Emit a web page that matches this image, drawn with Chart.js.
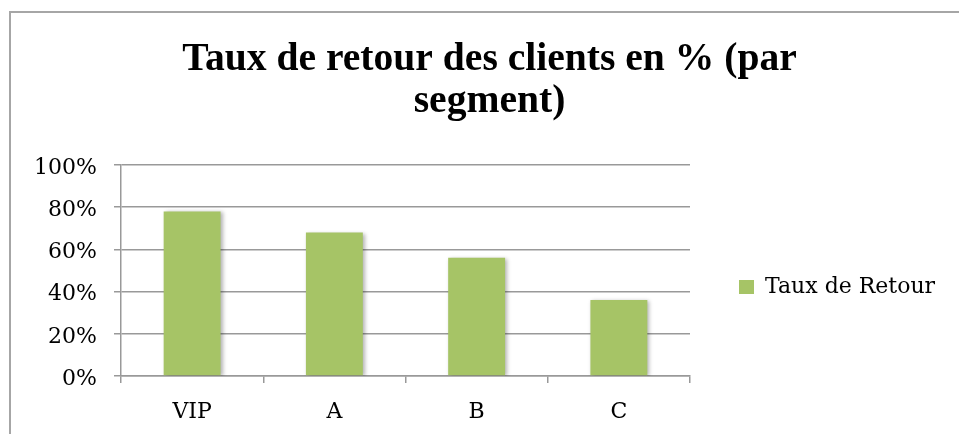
<!DOCTYPE html>
<html>
<head>
<meta charset="utf-8">
<script src="https://cdn.jsdelivr.net/npm/chart.js@4/dist/chart.umd.min.js"></script>
<style>
  html, body { margin: 0; padding: 0; background: #fff; overflow: hidden; }
  canvas { display: block; }
</style>
</head>
<body>
<canvas id="c" width="959" height="434"></canvas>
<script>
const categories = ['VIP', 'A', 'B', 'C'];
const seriesName = 'Taux de Retour';
const seriesValues = [78, 68, 56, 36];
const yTickValues = [0, 20, 40, 60, 80, 100];
const titleLines = ['Taux de retour des clients en % (par', 'segment)'];

const W = 959, H = 434;
const PLOT_LEFT = 121, PLOT_RIGHT = 690, PLOT_TOP = 165, PLOT_BOTTOM = 376;
const LEGEND_X = 739, LEGEND_CENTER_Y = 287;
const regFont = { family: '"DejaVu Serif"', size: 22 };
const gridColor = '#999999';

// layout helpers (measure the legend text so the legend lands where the reference has it)
const mctx = document.createElement('canvas').getContext('2d');
mctx.font = '22px "DejaVu Serif"';
const boxW = 15, boxH = 14;
const itemWidth = boxW + regFont.size / 2 + mctx.measureText(seriesName).width;
const padR = Math.max(0, W - 10 - itemWidth - LEGEND_X);
const padL = padR + 20;

const framePlugin = {
  id: 'frame',
  beforeDraw(chart) {
    const ctx = chart.ctx;
    ctx.save();
    ctx.fillStyle = '#ffffff';
    ctx.fillRect(0, 0, chart.width, chart.height);
    ctx.strokeStyle = '#a6a6a6';
    ctx.lineWidth = 2;
    ctx.strokeRect(10, 12, chart.width + 20, chart.height + 20);
    ctx.restore();
  }
};
const shadowPlugin = {
  id: 'barShadow',
  beforeDatasetsDraw(chart) {
    const ctx = chart.ctx;
    ctx.save();
    ctx.shadowColor = 'rgba(0,0,0,0.3)';
    ctx.shadowBlur = 4;
    ctx.shadowOffsetX = 2;
    ctx.shadowOffsetY = 1;
  },
  afterDatasetsDraw(chart) {
    chart.ctx.restore();
  }
};

new Chart(document.getElementById('c'), {
  type: 'bar',
  data: {
    labels: categories,
    datasets: [{
      label: seriesName,
      data: seriesValues,
      backgroundColor: '#a6c466',
      borderWidth: 0,
      barPercentage: 0.4,
      categoryPercentage: 1.0
    }]
  },
  options: {
    responsive: false,
    animation: false,
    devicePixelRatio: 1,
    layout: { padding: { left: padL, right: padR, top: 0, bottom: 0 } },
    plugins: {
      tooltip: { enabled: false },
      title: {
        display: true,
        text: titleLines,
        color: '#000000',
        font: { family: '"Liberation Serif"', size: 39.6, weight: 'bold', lineHeight: '42px' },
        padding: { top: 39, bottom: 42 }
      },
      legend: {
        display: true,
        position: 'right',
        fullSize: false,
        maxWidth: 500,
        title: { display: true, text: '', padding: 0, font: { size: 10, lineHeight: (2 * (LEGEND_CENTER_Y - (PLOT_TOP + PLOT_BOTTOM) / 2)) + 'px' } },
        labels: {
          color: '#000000',
          font: regFont,
          boxWidth: boxW,
          boxHeight: boxH,
          padding: LEGEND_X - PLOT_RIGHT
        }
      }
    },
    scales: {
      x: {
        grid: {
          display: true,
          drawOnChartArea: false,
          drawTicks: true,
          tickLength: 7,
          color: gridColor,
          lineWidth: 1.5
        },
        border: { display: true, color: gridColor, width: 1.5 },
        ticks: { color: '#000000', font: regFont, padding: 16, maxRotation: 0 },
        afterFit(scale) { scale.height = H - PLOT_BOTTOM; }
      },
      y: {
        min: 0,
        max: 100,
        afterBuildTicks(scale) { scale.ticks = yTickValues.map(v => ({ value: v })); },
        grid: {
          color: gridColor,
          lineWidth: 1.5,
          drawTicks: true,
          tickLength: 7
        },
        border: { display: true, color: gridColor, width: 1.5 },
        ticks: {
          color: '#000000',
          font: regFont,
          padding: 17,
          labelOffset: 3,
          callback: v => v + '%'
        },
        afterFit(scale) { scale.width = PLOT_LEFT - padL; }
      }
    }
  },
  plugins: [framePlugin, shadowPlugin]
});
</script>
</body>
</html>
